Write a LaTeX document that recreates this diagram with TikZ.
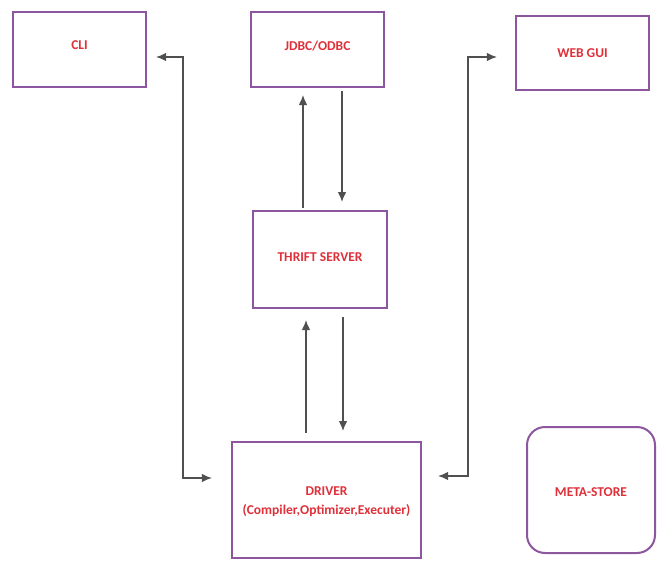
\documentclass[tikz,border=0pt]{standalone}
\usepackage{fontspec}
\setmainfont{Carlito}
\usetikzlibrary{arrows.meta}
\definecolor{boxline}{HTML}{8E569E}
\definecolor{labelred}{HTML}{E0303A}
\definecolor{wire}{HTML}{505050}
\tikzset{
  block/.style={draw=boxline, line width=2.4pt, fill=white, inner sep=0pt},
  label/.style={font=\bfseries\fontsize{13.5}{16}\selectfont, text=labelred, align=center},
  tip/.tip={Latex[length=10pt,width=8.5pt]},
  wirearrow/.style={draw=wire, line width=1.1pt, -tip},
  wireboth/.style={draw=wire, line width=1.1pt, tip-tip},
}
\begin{document}
\begin{tikzpicture}[x=1pt,y=-1pt]
\useasboundingbox (0,0) rectangle (657,563);

% component boxes
\node[block, minimum width=133pt, minimum height=75pt] (cli) at (79.5,49.5) {};
\node[label] (cliText) at (79.5,45) {CLI};

\node[block, minimum width=133pt, minimum height=75pt] (jdbc) at (317.5,49.5) {};
\node[label] (jdbcText) at (317.5,46) {JDBC/ODBC};

\node[block, minimum width=133pt, minimum height=74pt] (web) at (582.5,53) {};
\node[label] (webText) at (582.5,53) {WEB GUI};

\node[block, minimum width=134pt, minimum height=97pt] (thrift) at (320,259.5) {};
\node[label] (thriftText) at (320,257) {THRIFT SERVER};

\node[block, minimum width=189pt, minimum height=116pt] (driver) at (326.5,500) {};
\node[label] (driverText) at (326.5,502)
  {DRIVER\\[3pt](Compiler,Optimizer,Executer)};

\node[block, line width=2pt, rounded corners=18pt, minimum width=128pt, minimum height=126pt] (meta) at (591,490) {};
\node[label] (metaText) at (591,492) {META-STORE};

% connector end points
\coordinate (cliEnd) at ([xshift=9pt]cli.east |- 0,57);
\coordinate (cliBend) at (183,57);
\coordinate (cliLow) at (183,478);
\coordinate (drvL) at ([xshift=-19pt]driver.west |- 0,478);

\coordinate (webEnd) at ([xshift=-18pt]web.west |- 0,57);
\coordinate (webBend) at (468,57);
\coordinate (webLow) at (468,476);
\coordinate (drvR) at ([xshift=16pt]driver.east |- 0,476);

\coordinate (jUpTop) at (303,95);
\coordinate (jUpBot) at (303,208);
\coordinate (jDnTop) at (342,91);
\coordinate (jDnBot) at (342,202);

\coordinate (tUpTop) at (306,320);
\coordinate (tUpBot) at (306,433);
\coordinate (tDnTop) at (343,317);
\coordinate (tDnBot) at (343,431);

% connectors
\draw[wireboth] (cliEnd) -- (cliBend) -- (cliLow) -- (drvL);
\draw[wireboth] (webEnd) -- (webBend) -- (webLow) -- (drvR);
\draw[wirearrow] (jUpBot) -- (jUpTop);
\draw[wirearrow] (jDnTop) -- (jDnBot);
\draw[wirearrow] (tUpBot) -- (tUpTop);
\draw[wirearrow] (tDnTop) -- (tDnBot);
\end{tikzpicture}
\end{document}
